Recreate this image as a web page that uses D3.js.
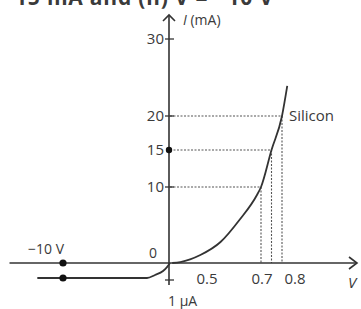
<!DOCTYPE html>
<html>
<head>
<meta charset="utf-8">
<script src="https://cdn.jsdelivr.net/npm/d3@7"></script>
<style>
  body { margin: 0; background: #fff; }
  text { font-family: "Open Sans", "DejaVu Sans", sans-serif; fill: #3a3a3a; }
</style>
</head>
<body>
<div id="chart"></div>
<script>
// values (schematic, axes are not to scale)
var yTicks = [10, 20, 30];
var xTickLabels = ["0.5", "0.7", "0.8"];
var xTickValues = [0.5, 0.7, 0.8];
var dashI = [10, 15, 20];
var dashV = [0.70, 0.73, 0.76];

var forwardV = [0.03, 0.14, 0.41, 0.55, 0.62, 0.685, 0.70, 0.73, 0.76, 0.775];
var forwardI = [0, 0.13, 1.05, 2.76, 5.66, 8.95, 10, 15, 20, 23.9];

// reverse branch, current in mA (1 µA = 0.001 mA)
var reverseV = [-12.4, -2.15, -1.4, -0.65, -0.28, 0];
var reverseI = [-0.001, -0.001, -0.0008, -0.00053, -0.00027, 0];

var width = 361, height = 309;

var svg = d3.select("#chart").append("svg")
    .attr("width", width)
    .attr("height", height);

// piecewise scales because the sketch stretches some regions
var x = d3.scaleLinear()
    .domain([-15, -10, 0, 0.5, 0.7, 0.8])
    .range([9.5, 63, 170, 207, 261, 296]);

var y = d3.scaleLinear()
    .domain([-0.001, 0, 10, 15, 20, 30])
    .range([278, 263, 187, 150, 116, 39]);

var ink = "#333";

// cut-off heading at the top
svg.append("text")
    .attr("x", 15).attr("y", 5)
    .attr("font-size", 21)
    .attr("font-weight", "bold")
    .attr("textLength", 258)
    .text("15 mA and (ii) V = \u221210 V");

// dashed guides
var guides = d3.range(dashI.length).map(function (i) { return { v: dashV[i], i: dashI[i] }; });
svg.selectAll(".hguide").data(guides).enter().append("line")
    .attr("x1", x(0)).attr("x2", function (d) { return x(d.v); })
    .attr("y1", function (d) { return y(d.i); }).attr("y2", function (d) { return y(d.i); })
    .attr("stroke", "#555").attr("stroke-width", 1.1)
    .attr("stroke-dasharray", "2,1.5");
svg.selectAll(".vguide").data(guides).enter().append("line")
    .attr("x1", function (d) { return x(d.v); }).attr("x2", function (d) { return x(d.v); })
    .attr("y1", function (d) { return y(d.i); }).attr("y2", y(0))
    .attr("stroke", "#555").attr("stroke-width", 1.1)
    .attr("stroke-dasharray", "2,1.5");

// axes
svg.append("line")
    .attr("x1", x(-15)).attr("x2", 357)
    .attr("y1", y(0)).attr("y2", y(0))
    .attr("stroke", ink).attr("stroke-width", 1.6);
svg.append("path")
    .attr("d", "M" + (357 - 8) + "," + (y(0) - 6) + "L357," + y(0) + "L" + (357 - 8) + "," + (y(0) + 6))
    .attr("fill", "none").attr("stroke", ink).attr("stroke-width", 1.6);

svg.append("line")
    .attr("x1", x(0) - 1).attr("x2", x(0) - 1)
    .attr("y1", 15).attr("y2", 285)
    .attr("stroke", ink).attr("stroke-width", 1.6);
svg.append("path")
    .attr("d", "M" + (x(0) - 7) + ",21L" + (x(0) - 1) + ",15L" + (x(0) + 5) + ",21")
    .attr("fill", "none").attr("stroke", ink).attr("stroke-width", 1.6);

// y ticks
svg.selectAll(".ytick").data(yTicks).enter().append("line")
    .attr("x1", x(0) - 5).attr("x2", x(0) + 4)
    .attr("y1", function (d) { return y(d); }).attr("y2", function (d) { return y(d); })
    .attr("stroke", ink).attr("stroke-width", 1.3);
svg.selectAll(".ylab").data(yTicks.concat([15])).enter().append("text")
    .attr("x", x(0) - 6)
    .attr("y", function (d) { return y(d); })
    .attr("dy", "0.36em")
    .attr("text-anchor", "end")
    .attr("font-size", 15)
    .text(function (d) { return d; });
svg.append("circle")
    .attr("cx", x(0) - 1).attr("cy", y(15)).attr("r", 3.2).attr("fill", "#111");

// 1 µA tick below origin
svg.append("line")
    .attr("x1", x(0) - 5).attr("x2", x(0) + 4)
    .attr("y1", y(-0.001) + 2).attr("y2", y(-0.001) + 2)
    .attr("stroke", ink).attr("stroke-width", 1.3);

// x tick labels (positions follow the sketch)
var xLabelShift = [0, 1, -1];
svg.selectAll(".xlab").data(xTickValues).enter().append("text")
    .attr("x", function (d, i) { return x(d) + xLabelShift[i]; })
    .attr("y", 284)
    .attr("text-anchor", "middle")
    .attr("font-size", 15)
    .text(function (d, i) { return xTickLabels[i]; });

// curves
var line = d3.line()
    .x(function (d) { return x(d[0]); })
    .y(function (d) { return y(d[1]); })
    .curve(d3.curveMonotoneX);

svg.append("path")
    .datum(forwardV.map(function (v, i) { return [v, forwardI[i]]; }))
    .attr("d", line)
    .attr("fill", "none").attr("stroke", ink).attr("stroke-width", 1.8);

svg.append("path")
    .datum(reverseV.map(function (v, i) { return [v, reverseI[i]]; }))
    .attr("d", line)
    .attr("fill", "none").attr("stroke", ink).attr("stroke-width", 1.8);

// -10 V dots
svg.selectAll(".rdot").data([0, -0.001]).enter().append("circle")
    .attr("cx", x(-10)).attr("cy", function (d) { return y(d); })
    .attr("r", 3.6).attr("fill", "#111");

// labels
svg.append("text").attr("x", 28).attr("y", 254).attr("font-size", 14).text("\u221210 V");
svg.append("text").attr("x", 153).attr("y", 258).attr("text-anchor", "middle").attr("font-size", 14).text("0");
svg.append("text").attr("x", 168).attr("y", 306).attr("font-size", 14).text("1 \u03bcA");
svg.append("text").attr("x", 348).attr("y", 288).attr("font-size", 15).attr("font-style", "italic").text("V");
svg.append("text").attr("x", 289).attr("y", 121).attr("font-size", 15).text("Silicon");

var il = svg.append("text").attr("x", 183).attr("y", 25).attr("font-size", 14);
il.append("tspan").attr("font-style", "italic").text("I");
il.append("tspan").text(" (mA)");
</script>
</body>
</html>
